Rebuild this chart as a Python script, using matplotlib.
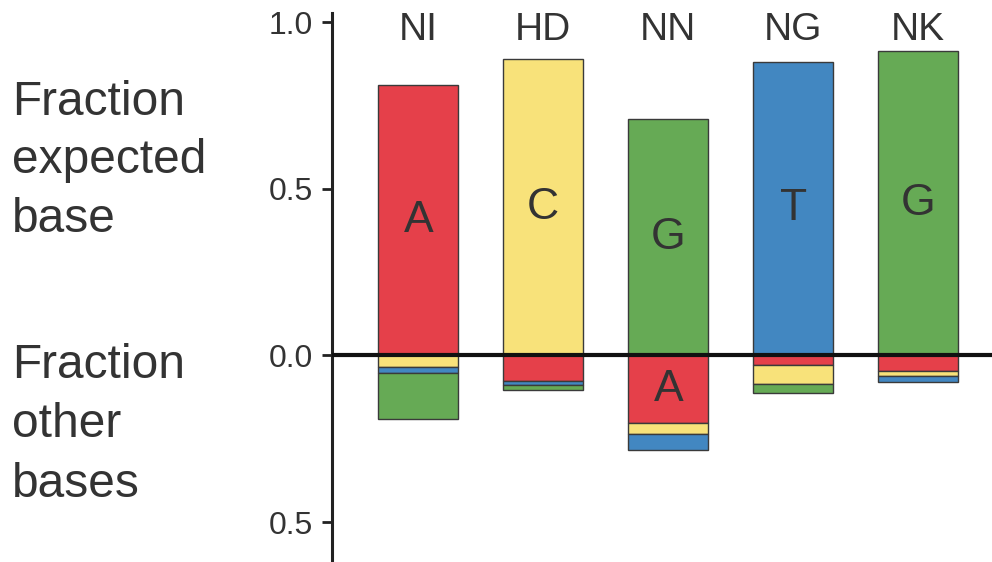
import numpy as np
import matplotlib.pyplot as plt

plt.rcParams['font.family'] = ['Liberation Sans', 'DejaVu Sans']

# TALE RVD -> fraction of reads with each base
constructs = ["NI", "HD", "NN", "NG", "NK"]
expected = ["A", "C", "G", "T", "G"]
frac_expected = [0.811, 0.889, 0.709, 0.880, 0.913]
# other bases, stacked downwards in the order A, C, T, G
other_A = [0.0, 0.078, 0.204, 0.030, 0.048]
other_C = [0.036, 0.0, 0.033, 0.057, 0.015]
other_T = [0.018, 0.012, 0.048, 0.0, 0.018]
other_G = [0.138, 0.015, 0.0, 0.027, 0.0]

colors = {"A": "#E5404A", "C": "#F8E27A", "G": "#66AA55", "T": "#4287C1"}
txt = "#333333"
edge = "#3a3a3a"

fig = plt.figure(figsize=(9.92, 5.62), dpi=100)
ax = fig.add_axes([0.3347, 0.0, 0.6653, 1 - 13 / 562])

x = np.arange(len(constructs))
w = 0.64

# expected base, upwards
for i in range(len(constructs)):
    b = expected[i]
    ax.bar(x[i], frac_expected[i], width=w, color=colors[b], edgecolor=edge, linewidth=1.0, zorder=2)
    ax.text(x[i], frac_expected[i] / 2, b, ha="center", va="center", fontsize=32, color=txt, zorder=4)
    ax.text(x[i], 0.975, constructs[i], ha="center", va="center", fontsize=28, color=txt)

# other bases, downwards
others = {"A": other_A, "C": other_C, "T": other_T, "G": other_G}
bottom = np.zeros(len(constructs))
for b in ["A", "C", "T", "G"]:
    vals = np.array(others[b])
    for i in range(len(constructs)):
        if vals[i] <= 0:
            continue
        ax.bar(x[i], -vals[i], bottom=-bottom[i], width=w, color=colors[b],
               edgecolor=edge, linewidth=1.0, zorder=2)
        if vals[i] > 0.15:
            ax.text(x[i], -bottom[i] - vals[i] / 2, b, ha="center", va="center",
                    fontsize=32, color=txt, zorder=4)
    bottom += vals

ax.axhline(0, color="#111111", linewidth=3, zorder=3)

ax.set_xlim(-0.69, 4.59)
ax.set_ylim(-0.62, 1.027)
ax.set_yticks([-0.5, 0.0, 0.5, 1.0])
ax.set_yticklabels(["0.5", "0.0", "0.5", "1.0"])
ax.tick_params(axis="y", labelsize=23, labelcolor=txt, length=7, width=2, pad=7, color="#222222")
ax.set_xticks([])
for s in ["top", "right", "bottom"]:
    ax.spines[s].set_visible(False)
ax.spines["left"].set_linewidth(2.2)
ax.spines["left"].set_color("#222222")
ax.patch.set_alpha(0)

# side labels
H = 562
for s, yb in zip(["Fraction", "expected", "base"], [115, 173, 232]):
    fig.text(12 / 992, 1 - yb / H, s, fontsize=34.5, color=txt, va="baseline", ha="left")
for s, yb in zip(["Fraction", "other", "bases"], [378, 437, 497]):
    fig.text(12 / 992, 1 - yb / H, s, fontsize=34.5, color=txt, va="baseline", ha="left")

fig.savefig("out.png", dpi=100)
